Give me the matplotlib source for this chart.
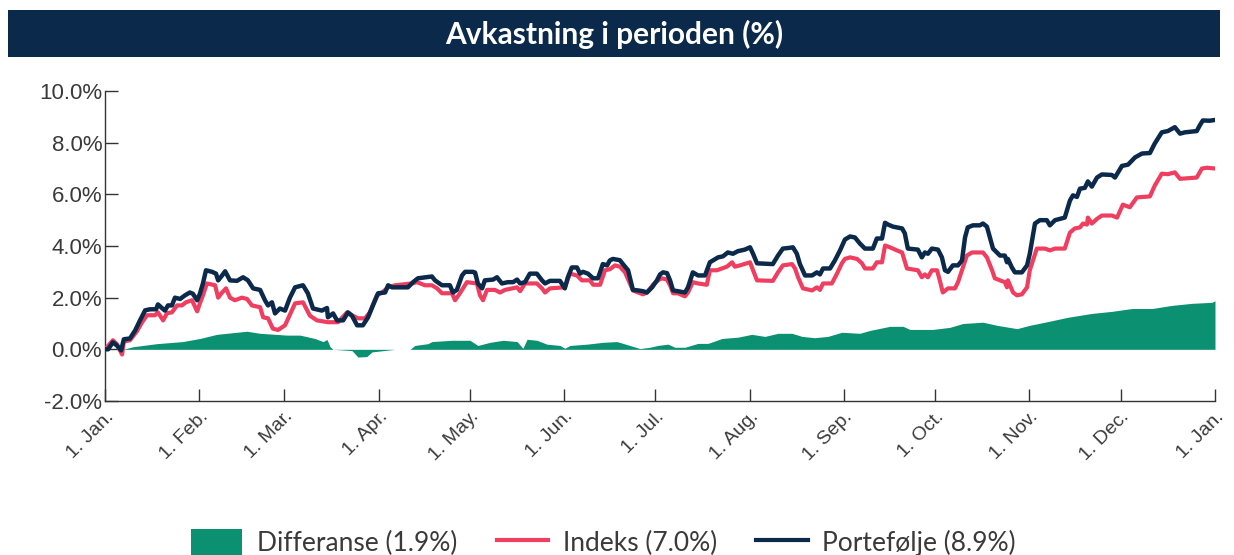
import numpy as np
import matplotlib
matplotlib.use("Agg")
import matplotlib.pyplot as plt
from matplotlib.patches import Rectangle, Patch
from matplotlib.lines import Line2D
from matplotlib.ticker import FuncFormatter
import matplotlib.transforms as mtransforms

# --- data (day of year, return in %) ---
month_days = [0, 31, 59, 90, 120, 151, 181, 212, 243, 273, 304, 334, 365]
month_labels = ["1. Jan.", "1. Feb.", "1. Mar.", "1. Apr.", "1. May.", "1. Jun.", "1. Jul.",
                "1. Aug.", "1. Sep.", "1. Oct.", "1. Nov.", "1. Dec.", "1. Jan."]

port_days = [0, 1.0, 2.6, 3.9, 5.3, 6.2, 8.2, 9.9, 11.5, 13.2, 14.8, 16.8, 17.4, 18.7, 19.7, 20.7, 22.0,
             23.0, 24.7, 26.3, 27.9, 28.9, 30.3, 31.2, 32.2, 33.2, 35.2, 36.5, 37.2, 38.5, 39.5, 41.1, 43.4,
             45.4, 47.0, 48.7, 51.0, 52.6, 53.6, 54.9, 55.9, 57.5, 59.2, 60.8, 62.5, 65.1, 66.7, 68.4, 71.3,
             73.0, 73.3, 75.0, 76.3, 78.3, 79.9, 81.2, 82.9, 84.8, 86.5, 88.1, 89.8, 92.1, 93.1, 94.4, 99.6,
             101.3, 102.9, 107.5, 108.5, 110.8, 113.4, 114.4, 115.7, 117.4, 118.4, 121.0, 121.7, 122.6, 124.0,
             124.9, 127.6, 128.9, 130.5, 132.5, 134.2, 135.5, 136.5, 138.1, 139.7, 142.0, 143.7, 144.7, 146.3,
             149.6, 151.2, 152.2, 153.5, 155.2, 156.2, 157.2, 158.8, 160.5, 162.1, 163.7, 165.1, 166.0, 167.0,
             169.3, 170.3, 172.0, 173.6, 175.3, 176.9, 178.2, 179.9, 181.5, 182.5, 183.5, 184.8, 185.8, 186.8,
             188.4, 190.7, 191.7, 193.3, 195.0, 197.3, 198.9, 199.9, 201.6, 203.2, 204.8, 206.5, 208.1, 210.4,
             212.1, 213.1, 214.4, 219.6, 221.3, 222.9, 225.2, 226.2, 227.5, 228.5, 230.2, 232.5, 234.1, 235.1,
             236.1, 238.4, 240.0, 241.7, 243.3, 245.0, 246.6, 248.2, 249.9, 252.5, 253.8, 255.5, 256.5, 257.5,
             259.1, 262.1, 263.0, 264.0, 267.3, 268.6, 269.6, 270.6, 271.9, 273.9, 275.2, 276.2, 277.2, 278.8,
             280.5, 281.8, 282.8, 283.7, 285.4, 287.7, 288.7, 290.0, 291.0, 292.0, 294.3, 295.9, 296.6, 296.9,
             298.2, 299.2, 301.5, 303.2, 304.1, 305.8, 307.4, 309.7, 310.7, 312.4, 315.6, 317.3, 318.3, 319.6,
             320.6, 322.2, 323.2, 324.5, 326.2, 327.8, 331.1, 332.1, 334.4, 336.4, 338.7, 341.0, 343.6, 345.2,
             347.5, 349.5, 351.8, 353.5, 355.1, 359.0, 360.0, 361.0, 363.3, 365.0]
port_vals = [0.0, 0.0, 0.27, 0.15, -0.04, 0.39, 0.42, 0.73, 1.12, 1.51, 1.55, 1.55, 1.74, 1.6, 1.5, 1.7, 1.7,
             2.0, 1.95, 2.09, 2.2, 2.15, 1.9, 2.15, 2.55, 3.06, 3.0, 2.93, 2.67, 2.86, 3.02, 2.67, 2.65,
             2.79, 2.67, 2.36, 2.3, 1.9, 1.7, 1.82, 1.39, 1.58, 1.5, 2.0, 2.4, 2.48, 2.17, 1.58, 1.5,
             1.6, 1.24, 1.39, 1.12, 1.12, 1.43, 1.3, 0.93, 0.93, 1.24, 1.7, 2.17, 2.2, 2.48, 2.4, 2.4,
             2.6, 2.75, 2.82, 2.67, 2.48, 2.48, 2.2, 2.3, 2.86, 3.0, 3.0, 2.97, 2.55, 2.36,
             2.67, 2.7, 2.79, 2.55, 2.6, 2.6, 2.7, 2.55, 2.6, 2.93, 2.93, 2.67, 2.55, 2.65,
             2.65, 2.36, 2.79, 3.17, 3.17, 2.93, 3.0, 2.93, 2.75, 2.75, 3.3, 3.25, 3.44, 3.5,
             3.45, 3.3, 3.06, 2.3, 2.28, 2.25, 2.2, 2.4, 2.67, 2.9, 2.98, 2.95, 2.67, 2.28,
             2.25, 2.2, 2.4, 2.98, 2.86, 2.86, 3.37, 3.44, 3.56, 3.6, 3.75, 3.7, 3.8, 3.86,
             3.95, 3.7, 3.33, 3.3, 3.63, 3.9, 3.93, 3.95, 3.7, 3.3, 2.86, 2.86, 2.98, 2.9,
             3.13, 3.13, 3.44, 3.83, 4.25, 4.37, 4.33, 4.1, 3.9, 3.9, 4.29, 4.29, 4.9, 4.83,
             4.75, 4.68, 4.49, 3.9, 3.86, 3.56, 3.75, 3.7, 3.9, 3.86, 3.56, 3.06, 3.0, 3.25,
             3.25, 3.44, 4.33, 4.72, 4.8, 4.8, 4.87, 4.75, 4.33, 3.9, 3.63, 3.63, 3.37, 3.5,
             3.17, 2.98, 2.98, 3.25, 3.7, 4.87, 5.0, 5.0, 4.8, 5.0, 5.1, 5.76, 5.96, 5.9,
             6.22, 6.25, 6.5, 6.3, 6.65, 6.77, 6.75, 6.65, 7.1, 7.15, 7.43, 7.58, 7.6, 7.97,
             8.4, 8.45, 8.6, 8.35, 8.4, 8.45, 8.67, 8.86, 8.85, 8.88]

ind_days = [0, 2.6, 3.9, 5.6, 6.2, 8.2, 10.5, 12.2, 13.8, 16.4, 17.4, 19.1, 20.4, 22.0, 23.7, 25.3, 26.6,
            28.6, 30.3, 31.2, 32.2, 33.5, 36.2, 37.2, 38.5, 39.8, 41.1, 42.7, 45.0, 46.7, 48.3, 51.0, 52.0,
            53.6, 55.2, 56.9, 59.2, 62.5, 65.1, 67.4, 69.7, 73.3, 76.6, 79.6, 81.5, 83.2, 85.5, 87.1, 89.4,
            91.1, 93.1, 95.4, 100.9, 102.6, 105.2, 107.5, 109.2, 110.8, 114.1, 115.1, 116.7, 119.0, 122.3,
            123.3, 124.3, 125.6, 128.2, 129.9, 131.5, 135.5, 136.5, 138.1, 142.0, 143.7, 144.7, 146.3, 151.2,
            152.9, 155.2, 156.8, 159.5, 160.5, 162.8, 164.4, 166.0, 167.7, 169.3, 171.0, 173.6, 175.3, 176.9,
            178.2, 180.2, 181.8, 183.1, 184.8, 185.8, 186.8, 188.4, 190.7, 191.7, 193.3, 195.0, 197.9, 198.9,
            201.2, 202.9, 204.5, 206.2, 207.1, 208.8, 212.1, 213.1, 214.4, 219.6, 221.3, 222.9, 225.9, 226.9,
            227.9, 229.5, 232.5, 234.1, 235.1, 236.1, 239.0, 240.7, 242.3, 243.3, 245.0, 247.3, 248.9, 249.9,
            252.5, 253.8, 255.5, 256.5, 258.1, 260.4, 262.1, 263.7, 267.3, 268.6, 269.6, 270.6, 271.9, 273.6,
            274.5, 275.5, 277.2, 279.5, 280.5, 281.8, 283.4, 285.1, 288.7, 290.0, 291.7, 292.6, 294.3, 295.9,
            296.6, 296.9, 298.6, 299.9, 301.5, 303.2, 304.1, 306.4, 309.1, 310.7, 312.4, 315.6, 317.3, 318.9,
            320.6, 321.6, 322.9, 323.2, 324.5, 326.2, 327.8, 331.1, 332.8, 334.7, 337.0, 339.3, 343.6, 345.2,
            347.5, 349.5, 351.8, 353.5, 359.0, 360.7, 362.3, 365.0]
ind_vals = [0, 0.35, 0.2, -0.2, 0.3, 0.35, 0.7, 1.05, 1.32, 1.32, 1.43, 1.12, 1.4, 1.43, 1.7, 1.7, 1.82,
            1.9, 1.47, 1.78, 2.09, 2.55, 2.48, 2.0, 2.2, 2.36, 2.0, 1.9, 2.0, 1.95, 1.7, 1.63, 1.24,
            1.2, 0.8, 0.75, 0.93, 1.78, 1.82, 1.3, 1.12, 1.05, 1.05, 1.43, 1.3, 1.2, 1.2, 1.43, 2.09,
            2.2, 2.4, 2.48, 2.55, 2.6, 2.48, 2.48, 2.36, 2.17, 2.17, 1.9, 2.17, 2.6, 2.55,
            2.09, 1.9, 2.3, 2.3, 2.2, 2.3, 2.4, 2.25, 2.55, 2.55, 2.36, 2.2, 2.36, 2.4,
            2.93, 2.86, 2.67, 2.67, 2.5, 2.5, 3.06, 3.1, 3.25, 3.2, 2.98, 2.28, 2.2, 2.13,
            2.2, 2.5, 2.67, 2.75, 2.7, 2.48, 2.17, 2.17, 2.05, 2.2, 2.6, 2.55, 2.5, 3.06,
            3.06, 3.13, 3.2, 3.37, 3.2, 3.25, 3.37, 3.06, 2.67, 2.65, 2.98, 3.25, 3.3, 3.13,
            2.79, 2.36, 2.28, 2.4, 2.3, 2.55, 2.55, 2.93, 3.33, 3.5, 3.56, 3.5, 3.33, 3.13,
            3.13, 3.37, 3.37, 4.02, 3.95, 3.83, 3.75, 3.13, 3.06, 2.79, 2.9, 2.79, 3.06, 3.06,
            2.67, 2.2, 2.36, 2.36, 2.6, 3.06, 3.63, 3.75, 3.75, 3.56, 3.06, 2.75, 2.67, 2.6,
            2.4, 2.67, 2.2, 2.09, 2.13, 2.4, 3.06, 3.9, 3.9, 3.83, 3.9, 3.9, 4.52, 4.68,
            4.72, 4.87, 4.83, 5.1, 4.87, 5.05, 5.18, 5.18, 5.1, 5.6, 5.5, 5.88, 5.92, 6.34,
            6.8, 6.78, 6.85, 6.6, 6.65, 7.0, 7.03, 7.0]

diff_days = [0, 5.9, 9.2, 17.1, 25.6, 31.2, 36.8, 40.1, 46.7, 51.0, 59.8, 64.1, 69.0, 71.7, 73.0, 74.0, 75.0,
             81.2, 83.2, 86.1, 87.8, 95.4, 100.3, 101.9, 106.2, 107.5, 114.1, 120.0, 122.6, 126.6, 130.9,
             135.5, 137.4, 138.8, 142.0, 145.3, 149.6, 151.2, 152.9, 158.5, 163.7, 168.3, 172.6, 175.9,
             179.2, 181.8, 185.1, 187.4, 190.7, 195.0, 198.3, 202.9, 208.1, 212.7, 217.0, 221.3, 225.9,
             229.2, 233.4, 237.7, 242.3, 248.2, 251.5, 258.1, 262.4, 264.7, 272.2, 277.8, 282.1, 288.7,
             293.3, 299.9, 304.1, 309.1, 316.6, 324.5, 331.1, 337.7, 344.3, 350.8, 357.4, 364.0, 365.0]
diff_vals = [0, 0, 0.1, 0.22, 0.3, 0.42, 0.58, 0.62, 0.7, 0.62, 0.55, 0.55, 0.42, 0.3, 0.38, 0.1, 0.0,
             -0.05, -0.3, -0.28, -0.1, 0.0, 0.0, 0.15, 0.22, 0.3, 0.35, 0.35, 0.15, 0.27, 0.35,
             0.3, 0.04, 0.39, 0.35, 0.2, 0.15, 0.04, 0.15, 0.2, 0.27, 0.3, 0.15, 0.03,
             0.08, 0.15, 0.2, 0.08, 0.08, 0.23, 0.23, 0.42, 0.47, 0.58, 0.5, 0.62, 0.62,
             0.5, 0.45, 0.5, 0.66, 0.62, 0.73, 0.89, 0.89, 0.77, 0.77, 0.85, 1.0, 1.05,
             0.93, 0.8, 0.93, 1.05, 1.24, 1.39, 1.47, 1.58, 1.58, 1.7, 1.78, 1.82, 1.88]

navy = "#0b2a4b"
pink = "#ef3e5f"
green = "#0b9171"
text_col = "#3a3a3a"

plt.rcParams["font.family"] = ["Liberation Sans", "DejaVu Sans"]

fig = plt.figure(figsize=(12.34, 5.55), dpi=100)

# title bar
fig.patches.append(Rectangle((0.0065, 0.897), 0.982, 0.085, transform=fig.transFigure,
                             facecolor=navy, edgecolor="none", zorder=0))
fig.text(0.4975, 0.9385, "Avkastning i perioden (%)", color="white", fontsize=21.5,
         fontweight="bold", family=["Lato", "DejaVu Sans"], ha="center", va="center")

ax = fig.add_axes([0.0851, 0.2775, 0.8995, 0.5585])

ax.fill_between(diff_days, diff_vals, 0, color=green, linewidth=0, zorder=2)
ax.plot(ind_days, ind_vals, color=pink, linewidth=3.0, zorder=3, solid_joinstyle="round")
ax.plot(port_days, port_vals, color=navy, linewidth=3.2, zorder=4, solid_joinstyle="round")

ax.set_xlim(0, 365)
ax.set_ylim(-2, 10)
ax.set_yticks(np.arange(-2, 10.1, 2))
ax.yaxis.set_major_formatter(FuncFormatter(lambda v, p: f"{v:.1f}%"))
ax.set_xticks(month_days)
ax.set_xticklabels(month_labels, rotation=45, ha="right", va="top", rotation_mode="anchor")

offset = mtransforms.ScaledTranslation(10 / 100, 0, fig.dpi_scale_trans)
for lbl in ax.get_xticklabels():
    lbl.set_transform(lbl.get_transform() + offset)

ax.tick_params(axis="both", direction="in", length=9, width=1, colors="#333333",
               labelcolor=text_col)
ax.tick_params(axis="y", pad=2, labelsize=16)
ax.tick_params(axis="x", pad=5, labelsize=14)
for s in ["top", "right"]:
    ax.spines[s].set_visible(False)
for s in ["left", "bottom"]:
    ax.spines[s].set_color("#333333")
    ax.spines[s].set_linewidth(1)

handles = [Patch(facecolor=green, edgecolor="none"),
           Line2D([0], [0], color=pink, linewidth=3),
           Line2D([0], [0], color=navy, linewidth=3)]
labels = ["Differanse (1.9%)", "Indeks (7.0%)", "Portefølje (8.9%)"]
fig.legend(handles, labels, loc="lower center", bbox_to_anchor=(0.489, -0.045), ncol=3,
           frameon=False, prop={"family": ["Lato", "DejaVu Sans"], "size": 19},
           handlelength=1.95, handleheight=1.2, columnspacing=1.5, handletextpad=0.55,
           labelcolor=text_col)

fig.savefig("out.png", dpi=100)
